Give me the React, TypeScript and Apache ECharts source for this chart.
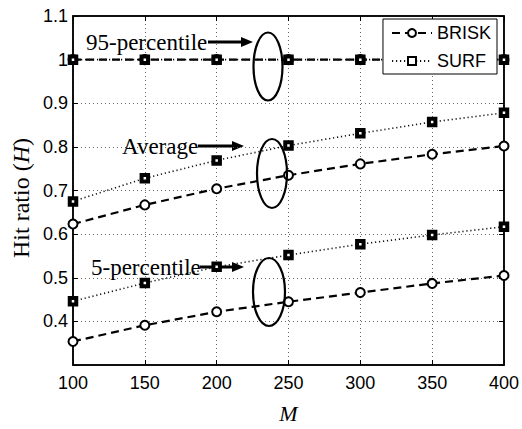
import React, { useEffect, useRef } from "react";
import * as echarts from "echarts";

const mValues = [100, 150, 200, 250, 300, 350, 400];
const brisk95 = [1.0, 1.0, 1.0, 1.0, 1.0, 1.0, 1.0];
const surf95 = [1.0, 1.0, 1.0, 1.0, 1.0, 1.0, 1.0];
const briskAvg = [0.623, 0.667, 0.704, 0.735, 0.761, 0.783, 0.802];
const surfAvg = [0.675, 0.728, 0.769, 0.803, 0.831, 0.857, 0.878];
const brisk5 = [0.354, 0.391, 0.422, 0.445, 0.466, 0.487, 0.505];
const surf5 = [0.446, 0.488, 0.525, 0.552, 0.577, 0.598, 0.617];

const SERIF = "'Liberation Serif', 'DejaVu Serif', serif";
const SANS = "'Liberation Sans', Arial, sans-serif";

const pair = (ys: number[]) => mValues.map((x, i) => [x, ys[i]]);

const briskStyle = {
  type: "line" as const,
  name: "BRISK",
  symbol: "circle",
  symbolSize: 9,
  lineStyle: { color: "#000", width: 2.2, type: [8, 5] as any },
  itemStyle: { color: "#fff", borderColor: "#000", borderWidth: 2 },
  z: 3,
};
const surfStyle = {
  type: "line" as const,
  name: "SURF",
  symbol: "rect",
  symbolSize: 6.5,
  lineStyle: { color: "#111", width: 1.6, type: [1.2, 2.8] as any },
  itemStyle: { color: "#fff", borderColor: "#000", borderWidth: 4 },
  z: 4,
};

function arrow(x1: number, x2: number, y: number) {
  return [
    { type: "line", shape: { x1, y1: y, x2: x2 - 8, y2: y }, style: { stroke: "#000", lineWidth: 3 } },
    { type: "polygon", shape: { points: [[x2, y], [x2 - 12, y - 5], [x2 - 12, y + 5]] }, style: { fill: "#000" } },
  ];
}

function ellipse(cx: number, cy: number, rx: number, ry: number) {
  return { type: "ellipse", shape: { cx, cy, rx, ry }, style: { fill: "none", stroke: "#000", lineWidth: 2.2 }, z: 10 };
}

export default function App() {
  const ref = useRef<HTMLDivElement>(null);
  useEffect(() => {
    if (!ref.current) return;
    const chart = echarts.init(ref.current, undefined, { renderer: "svg" });
    const yFmt = (v: number) => (Math.abs(v - 0.3) < 1e-6 ? "" : String(Math.round(v * 10) / 10));
    const splitDotted = { show: true, lineStyle: { color: "#666", width: 1, type: [1, 3] as any } };
    chart.setOption({
      animation: false,
      backgroundColor: "#fff",
      grid: { left: 73, right: 14, top: 16, bottom: 48, show: true, borderColor: "#000", borderWidth: 1.5, backgroundColor: "transparent" },
      xAxis: [
        {
          type: "value", min: 100, max: 400, interval: 50,
          axisLine: { show: true, onZero: false, lineStyle: { color: "#000", width: 1.5 } },
          axisTick: { show: true, inside: true, length: 5, lineStyle: { color: "#000" } },
          axisLabel: { color: "#000", fontSize: 18, fontFamily: SANS, margin: 9 },
          splitLine: splitDotted,
          name: "M", nameLocation: "middle", nameGap: 37,
          nameTextStyle: { fontFamily: SERIF, fontStyle: "italic", fontSize: 22, color: "#000" },
        },
        {
          type: "value", min: 100, max: 400, interval: 50, position: "top",
          axisLine: { show: true, onZero: false, lineStyle: { color: "#000", width: 1.5 } },
          axisTick: { show: true, inside: true, length: 5, lineStyle: { color: "#000" } },
          axisLabel: { show: false }, splitLine: { show: false },
        },
      ],
      yAxis: [
        {
          type: "value", min: 0.3, max: 1.1, interval: 0.1,
          axisLine: { show: true, onZero: false, lineStyle: { color: "#000", width: 1.5 } },
          axisTick: { show: true, inside: true, length: 5, lineStyle: { color: "#000" } },
          axisLabel: { color: "#000", fontSize: 18, fontFamily: SANS, margin: 5, formatter: yFmt },
          splitLine: splitDotted,
        },
        {
          type: "value", min: 0.3, max: 1.1, interval: 0.1, position: "right",
          axisLine: { show: true, onZero: false, lineStyle: { color: "#000", width: 1.5 } },
          axisTick: { show: true, inside: true, length: 5, lineStyle: { color: "#000" } },
          axisLabel: { show: false }, splitLine: { show: false },
        },
      ],
      legend: {
        data: ["BRISK", "SURF"],
        orient: "vertical",
        right: 25,
        top: 19,
        z: 30,
        zlevel: 0,
        padding: [5, 6, 4, 8],
        itemGap: 10,
        itemWidth: 40,
        itemHeight: 10,
        backgroundColor: "#fff",
        borderColor: "#000",
        borderWidth: 1,
        borderRadius: 0,
        textStyle: { color: "#000", fontSize: 18, fontFamily: SANS, padding: [0, 0, 0, 0] },
      },
      series: [
        { ...briskStyle, data: pair(brisk95) },
        { ...briskStyle, data: pair(briskAvg) },
        { ...briskStyle, data: pair(brisk5) },
        { ...surfStyle, data: pair(surf95) },
        { ...surfStyle, data: pair(surfAvg) },
        { ...surfStyle, data: pair(surf5) },
      ],
      graphic: [
        {
          type: "text", x: 21, y: 198, rotation: Math.PI / 2,
          style: {
            text: "Hit ratio ({i|H})",
            font: `24px ${SERIF}`,
            fill: "#000",
            align: "center",
            verticalAlign: "middle",
            rich: { i: { fontStyle: "italic", fontSize: 24, fontFamily: SERIF, fill: "#000" } },
          },
        },
        { type: "text", x: 86, y: 42, style: { text: "95-percentile", font: `23px ${SERIF}`, fill: "#000", verticalAlign: "middle" }, z: 11 },
        { type: "text", x: 122, y: 146, style: { text: "Average", font: `23px ${SERIF}`, fill: "#000", verticalAlign: "middle" }, z: 11 },
        { type: "text", x: 91, y: 267, style: { text: "5-percentile", font: `23px ${SERIF}`, fill: "#000", verticalAlign: "middle" }, z: 11 },
        ...arrow(208, 253, 42),
        ...arrow(198, 244, 146),
        ...arrow(200, 244, 267),
        ellipse(268, 66.5, 14.5, 34),
        ellipse(272, 173.5, 15, 34.5),
        ellipse(269, 292, 16, 34),
      ],
    });
    return () => chart.dispose();
  }, []);
  return <div ref={ref} style={{ width: 522, height: 429, position: "absolute", left: 0, top: 0 }} />;
}
